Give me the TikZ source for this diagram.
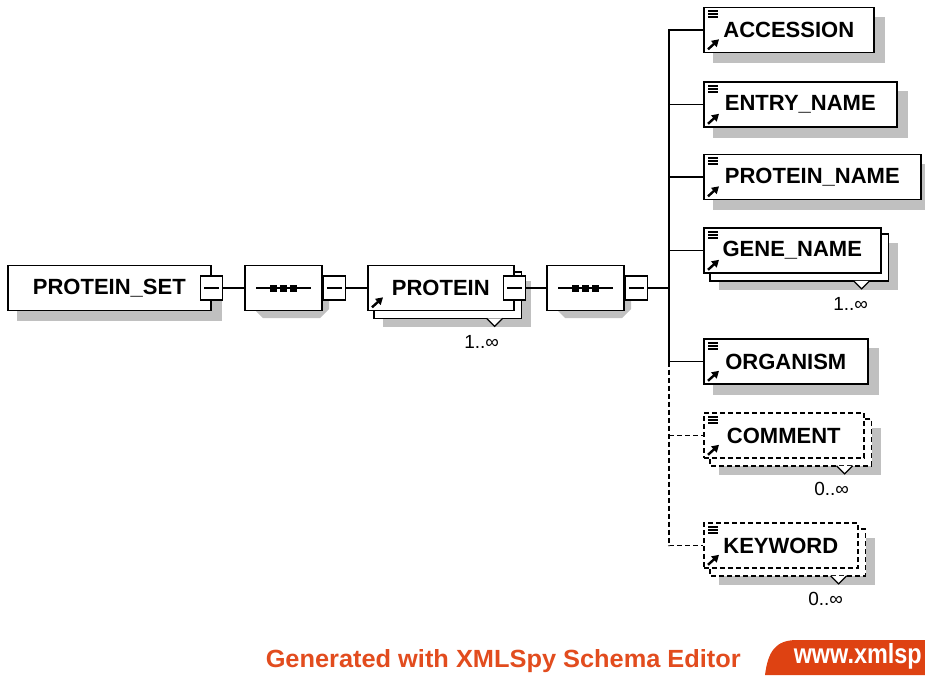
\documentclass[tikz,border=0pt]{standalone}
\usepackage{graphicx}
\usepackage{fontspec}
\setmainfont{Liberation Sans}
\usetikzlibrary{calc,shapes.misc,arrows.meta,backgrounds}

\definecolor{shadowgray}{RGB}{192,192,192}
\definecolor{xsred}{RGB}{226,76,30}
\definecolor{tagred}{RGB}{222,66,18}

\tikzset{every picture/.style={line width=1.5pt}}
\tikzset{
  elem/.style={draw, fill=white, line width=1.6pt, minimum height=45pt, inner sep=0pt,
    anchor=west, font=\bfseries\fontsize{22}{26}\selectfont},
  optelem/.style={elem, dash pattern=on 5pt off 3pt},
  backbox/.style={draw, fill=white, line width=1.6pt},
  shadowfill/.style={fill=shadowgray},
  seqbox/.style={chamfered rectangle, chamfered rectangle xsep=11pt, draw, fill=white,
    line width=1.6pt, minimum width=77pt, minimum height=45pt, inner sep=0pt, anchor=west},
  minusbox/.style={draw, fill=white, line width=1.4pt, minimum width=22pt,
    minimum height=24pt, inner sep=0pt},
  multtri/.style={draw, fill=white, line width=1.2pt},
  multlabel/.style={inner sep=0pt, font=\fontsize{19}{22}\selectfont},
  typeicon/.pic={\foreach \yy in {4.5,7.5,10.5} \draw[line width=1.6pt] (5,-\yy) -- (15,-\yy);},
  refarrow/.pic={\draw[line width=2.4pt, -{Triangle[length=7pt,width=8pt]}] (5,4) -- (16,14);}
}

\begin{document}
\begin{tikzpicture}[x=1pt,y=1pt,yscale=-1,xscale=1]
\useasboundingbox (0,0) rectangle (925,675);

% left part of the tree
\node[elem, minimum width=203pt] (set) at (7,288) {PROTEIN\_SET};
\node[minusbox] (setm) at (set.east) {\rule{15pt}{1.5pt}};
\node[seqbox] (seq1) at (244,288) {};
\node[minusbox, anchor=west] (seq1m) at (seq1.east) {\rule{15pt}{1.5pt}};
\node[elem, minimum width=146pt] (prot) at (367,288) {PROTEIN};
\node[minusbox] (protm) at (prot.east) {\rule{15pt}{1.5pt}};
\node[seqbox] (seq2) at (546,288) {};
\node[minusbox, anchor=west] (seq2m) at (seq2.east) {\rule{15pt}{1.5pt}};
\coordinate (bus) at (669,288);

% children of PROTEIN
\node[elem, minimum width=170pt] (acc) at (703,30) {ACCESSION};
\node[elem, minimum width=193pt] (entry) at (703,104.5) {ENTRY\_NAME};
\node[elem, minimum width=217pt] (pname) at (703,177) {PROTEIN\_NAME};
\node[elem, minimum width=177pt] (gene) at (703,250.5) {GENE\_NAME};
\node[elem, minimum width=164pt] (org) at (703,361.5) {ORGANISM};
\node[optelem, minimum width=160pt] (com) at (703,435.5) {COMMENT};
\node[optelem, minimum width=154pt] (key) at (703,545.5) {KEYWORD};

% shadows and stacked boxes
\begin{scope}[on background layer]
\fill[white] (0,0) rectangle (925,675);
\foreach \n in {set,acc,entry,pname,org}
  \fill[shadowfill] ($(\n.north west)+(10,10)$) rectangle ($(\n.south east)+(10,10)$);
\foreach \n in {prot,gene,com,key}
  \fill[shadowfill] ($(\n.north west)+(16,16)$) rectangle ($(\n.south east)+(16,16)$);
\fill[shadowfill] (263,273) -- (320,273) -- (329,282) -- (329,309) -- (320,318) -- (263,318) -- (254,309) -- (254,282) -- cycle;
\fill[shadowfill] (565,273) -- (622,273) -- (631,282) -- (631,309) -- (622,318) -- (565,318) -- (556,309) -- (556,282) -- cycle;
\foreach \n in {prot,gene}
  \draw[backbox] ($(\n.north west)+(7,7)$) rectangle ($(\n.south east)+(7,7)$);
\foreach \n in {com,key}
  \draw[backbox, dash pattern=on 5pt off 3pt] ($(\n.north west)+(7,7)$) rectangle ($(\n.south east)+(7,7)$);
\end{scope}

% sequence marks
\foreach \s in {seq1,seq2} {
  \draw[line width=1.5pt] ($(\s.center)+(-27,0)$) -- ($(\s.center)+(28,0)$);
  \foreach \dx in {-10,0,10}
    \fill ($(\s.center)+(\dx-3.5,-3.5)$) rectangle ++(7,7);
}

% icons
\pic at (prot.south west) {refarrow};
\foreach \n in {acc,entry,pname,gene,org,com,key} {
  \pic at (\n.north west) {typeicon};
  \pic at (\n.south west) {refarrow};
}

% occurrence marks
\foreach \n in {prot,gene,com,key}
  \draw[multtri] ($(\n.south east)+(-28,7)$) -- ($(\n.south east)+(-20,15)$) -- ($(\n.south east)+(-12,7)$);
\node[multlabel] (protmult) at ($(prot.south east)+(-33,31)$) {1..∞};
\node[multlabel] (genemult) at ($(gene.south east)+(-31,30)$) {1..∞};
\node[multlabel] (commult) at ($(com.south east)+(-33,30)$) {0..∞};
\node[multlabel] (keymult) at ($(key.south east)+(-33,30)$) {0..∞};

% connectors
\draw (setm.east) -- (seq1.west);
\draw (seq1m.east) -- (prot.west);
\draw (protm.east) -- (seq2.west);
\draw (seq2m.east) -- (bus);
\draw (acc.west) -- (acc.west -| bus) -- (org.west -| bus) -- (org.west);
\draw (entry.west) -- (entry.west -| bus);
\draw (pname.west) -- (pname.west -| bus);
\draw (gene.west) -- (gene.west -| bus);
\draw[dash pattern=on 5pt off 3pt] (org.west -| bus) -- (key.west -| bus) -- (key.west);
\draw[dash pattern=on 5pt off 3pt] (com.west -| bus) -- (com.west);

% footer
\node[anchor=base west, text=xsred, inner sep=0pt] (gen) at (265,667)
  {\resizebox{475pt}{18pt}{\bfseries Generated with XMLSpy Schema Editor}};
\fill[tagred] (765,675) .. controls (768,652) and (775,640) .. (797,640) -- (925,640) -- (925,675) -- cycle;
\node[anchor=base west, text=white, inner sep=0pt] (url) at (793,663)
  {\resizebox{128pt}{20pt}{\bfseries www.xmlsp}};

\end{tikzpicture}
\end{document}
